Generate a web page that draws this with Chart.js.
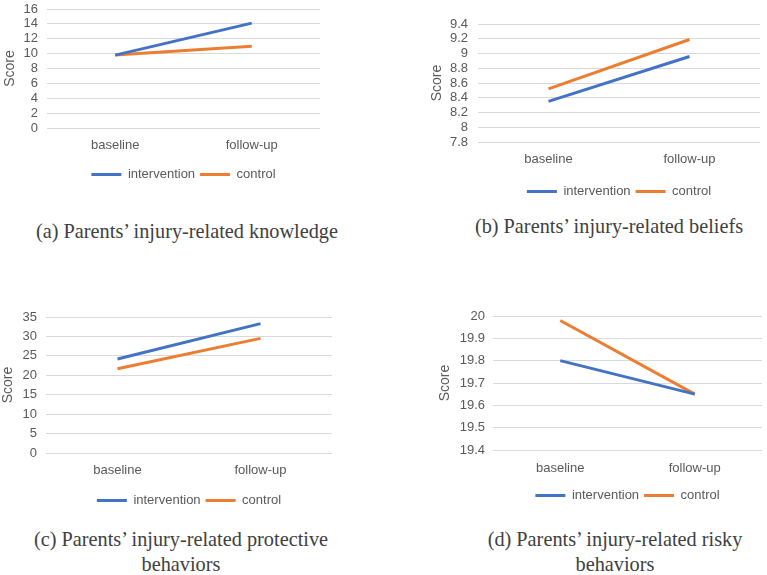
<!DOCTYPE html>
<html>
<head>
<meta charset="utf-8">
<script src="https://cdn.jsdelivr.net/npm/chart.js@4.4.0/dist/chart.umd.min.js"></script>
<style>
  body { margin: 0; background: #fff; width: 767px; height: 575px; position: relative; overflow: hidden; }
  canvas { position: absolute; }
  .cap { position: absolute; width: 400px; text-align: center; font-family: "Liberation Serif", "Times New Roman", serif;
         font-size: 20.3px; line-height: 25px; color: #404040; }
</style>
</head>
<body>
<canvas id="chartA" width="340" height="191" style="left:0;top:0"></canvas>
<canvas id="chartB" width="347" height="208" style="left:420px;top:0"></canvas>
<canvas id="chartC" width="340" height="217" style="left:0;top:300px"></canvas>
<canvas id="chartD" width="347" height="212" style="left:420px;top:300px"></canvas>

<div class="cap" style="left:-13px;top:219px">(a) Parents’ injury-related knowledge</div>
<div class="cap" style="left:409px;top:214px">(b) Parents’ injury-related beliefs</div>
<div class="cap" style="left:-19px;top:527px">(c) Parents’ injury-related protective<br>behaviors</div>
<div class="cap" style="left:415px;top:527px">(d) Parents’ injury-related risky<br>behaviors</div>

<script>
const categories = ["baseline", "follow-up"];
const seriesNames = ["intervention", "control"];

const knowledgeIntervention = [9.8, 14.1];
const knowledgeControl = [9.8, 11.0];
const knowledgeTicks = [0, 2, 4, 6, 8, 10, 12, 14, 16];

const beliefsIntervention = [8.35, 8.96];
const beliefsControl = [8.52, 9.19];
const beliefsTicks = [7.8, 8, 8.2, 8.4, 8.6, 8.8, 9, 9.2, 9.4];

const protectiveIntervention = [24.2, 33.3];
const protectiveControl = [21.7, 29.5];
const protectiveTicks = [0, 5, 10, 15, 20, 25, 30, 35];

const riskyIntervention = [19.80, 19.65];
const riskyControl = [19.98, 19.65];
const riskyTicks = [19.4, 19.5, 19.6, 19.7, 19.8, 19.9, 20];

const blue = "#4472C4";
const orange = "#ED7D31";
const textGray = "#595959";

// layout bits per panel: pl = left padding, yw = y axis width, xh = x axis height
function drawPanel(id, interv, ctrl, ticks, lay) {
  new Chart(document.getElementById(id), {
    type: "line",
    data: {
      labels: categories,
      datasets: [
        { label: seriesNames[0], data: interv, borderColor: blue, backgroundColor: blue, borderWidth: 3 },
        { label: seriesNames[1], data: ctrl, borderColor: orange, backgroundColor: orange, borderWidth: 3 }
      ]
    },
    options: {
      responsive: false,
      animation: false,
      elements: {
        line: { tension: 0 },
        point: { radius: 0, hoverRadius: 0 }
      },
      layout: { padding: { left: lay.pl, right: lay.pr, top: lay.pt, bottom: 0 } },
      plugins: {
        tooltip: { enabled: false },
        legend: {
          position: "bottom",
          fullSize: false,
          labels: {
            usePointStyle: true,
            pointStyle: "line",
            pointStyleWidth: 30,
            padding: 5,
            color: textGray,
            font: { family: "Liberation Sans, Arial", size: 13 }
          }
        }
      },
      scales: {
        x: {
          offset: true,
          grid: { display: false, drawTicks: false },
          border: { display: false },
          ticks: { color: textGray, padding: lay.xp, font: { family: "Liberation Sans, Arial", size: 13 } },
          afterFit: s => { s.height = lay.xh; }
        },
        y: {
          min: ticks[0],
          max: ticks[ticks.length - 1],
          grid: { color: "#d9d9d9", drawTicks: false },
          border: { display: false },
          title: {
            display: true, text: "Score", color: textGray, padding: 0,
            font: { family: "Liberation Sans, Arial", size: 14 }
          },
          ticks: {
            color: textGray, padding: lay.yp, autoSkip: false,
            font: { family: "Liberation Sans, Arial", size: 13 },
            callback: v => String(Math.round(v * 100) / 100)
          },
          afterBuildTicks: s => { s.ticks = ticks.map(v => ({ value: v })); },
          afterFit: s => { s.width = lay.yw; s.paddingTop = 0; s.paddingBottom = 0; }
        }
      }
    }
  });
}

drawPanel("chartA", knowledgeIntervention, knowledgeControl, knowledgeTicks,
  { pl: 1.6, yw: 45.4, pr: 20, pt: 9, xh: 35, xp: 10, yp: 9 });
drawPanel("chartB", beliefsIntervention, beliefsControl, beliefsTicks,
  { pl: 8.6, yw: 49.4, pr: 7, pt: 24, xh: 38, xp: 10, yp: 10 });
drawPanel("chartC", protectiveIntervention, protectiveControl, protectiveTicks,
  { pl: 0, yw: 46, pr: 8, pt: 17, xh: 36, xp: 10, yp: 9 });
drawPanel("chartD", riskyIntervention, riskyControl, riskyTicks,
  { pl: 16.6, yw: 56.4, pr: 5, pt: 16, xh: 34, xp: 11, yp: 8 });
</script>
</body>
</html>
